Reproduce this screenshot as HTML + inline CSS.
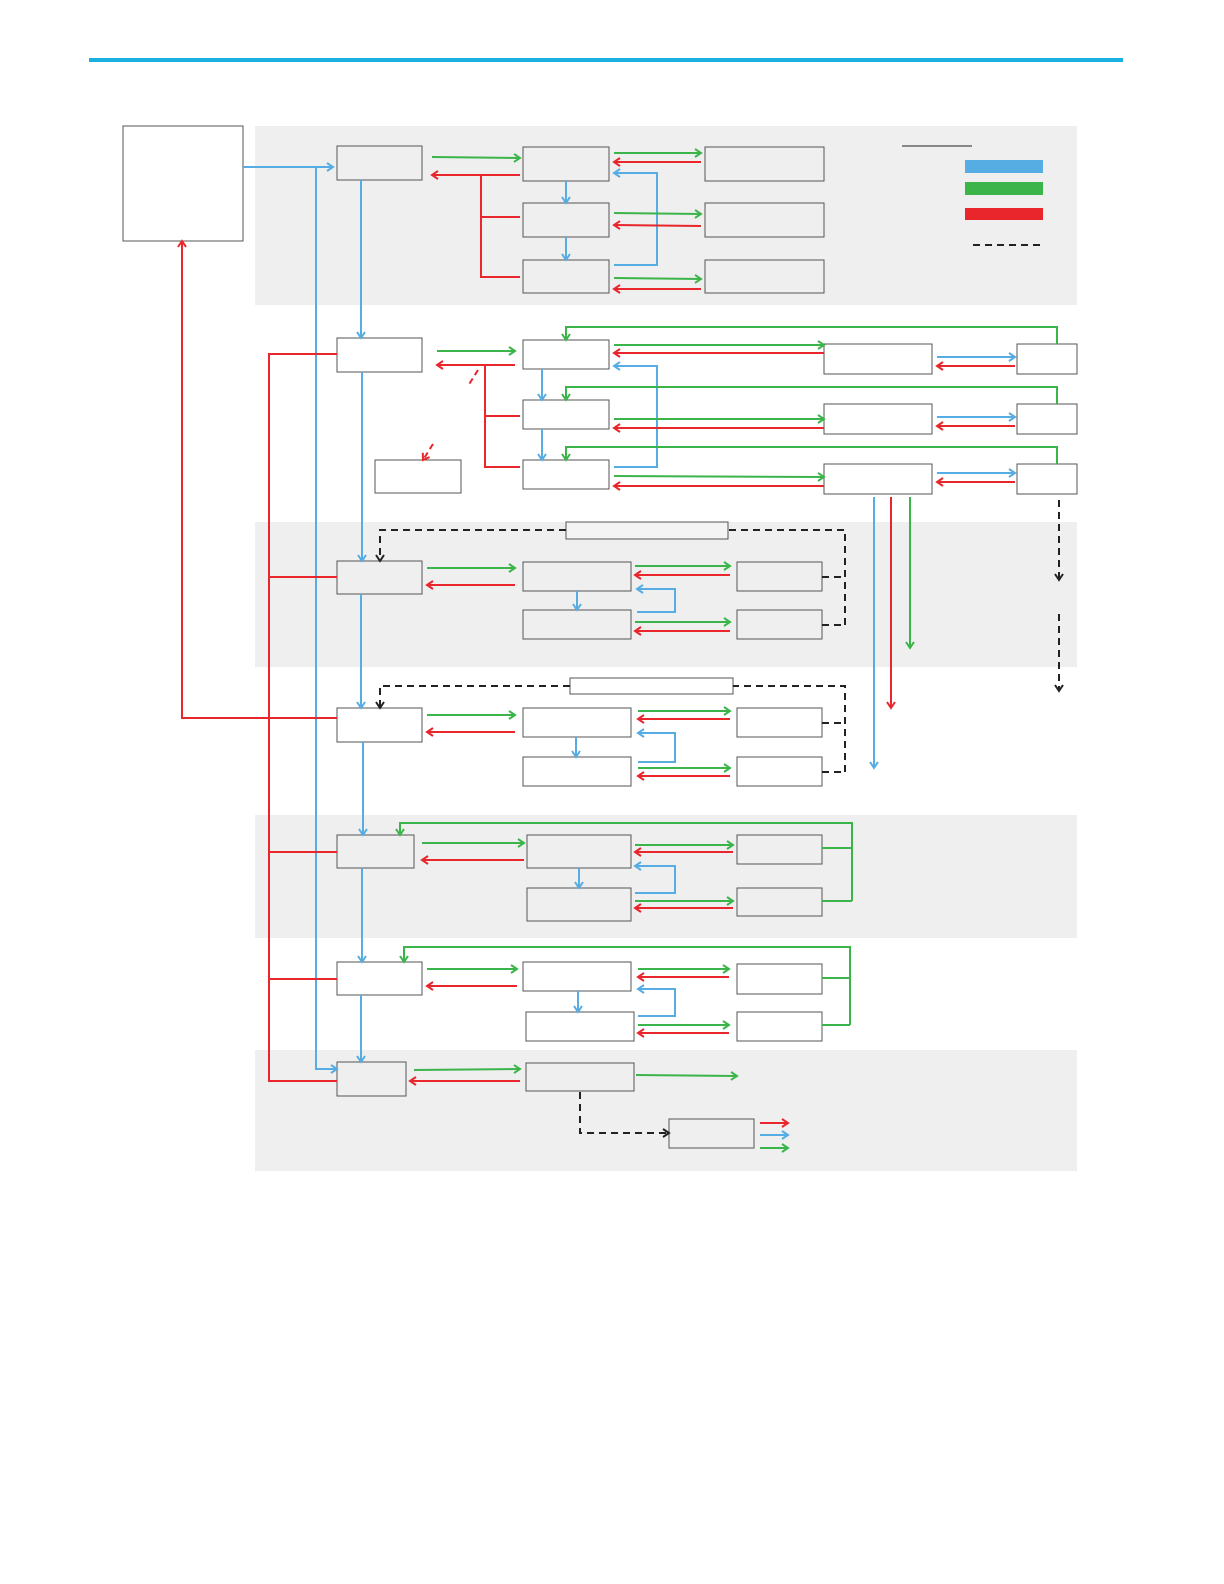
<!DOCTYPE html>
<html><head><meta charset="utf-8"><style>
html,body{margin:0;padding:0;background:#fff;}
svg{display:block;}
</style></head><body>
<svg width="1224" height="1584" viewBox="0 0 1224 1584" xmlns="http://www.w3.org/2000/svg">
<defs>
<marker id="ab" markerWidth="10" markerHeight="10" refX="8" refY="5" orient="auto" markerUnits="userSpaceOnUse"><path d="M2,1 L8,5 L2,9" fill="none" stroke="#56ade3" stroke-width="2"/></marker>
<marker id="ag" markerWidth="10" markerHeight="10" refX="8" refY="5" orient="auto" markerUnits="userSpaceOnUse"><path d="M2,1 L8,5 L2,9" fill="none" stroke="#3bb54a" stroke-width="2"/></marker>
<marker id="ar" markerWidth="10" markerHeight="10" refX="8" refY="5" orient="auto" markerUnits="userSpaceOnUse"><path d="M2,1 L8,5 L2,9" fill="none" stroke="#e8262b" stroke-width="2"/></marker>
<marker id="ak" markerWidth="10" markerHeight="10" refX="8" refY="5" orient="auto" markerUnits="userSpaceOnUse"><path d="M2,1 L8,5 L2,9" fill="none" stroke="#222" stroke-width="2"/></marker>
</defs>
<rect x="89" y="58" width="1034" height="4" fill="#1ab0e0"/>
<g fill="#efefef">
<rect x="255" y="126" width="822" height="179"/>
<rect x="255" y="522" width="822" height="145"/>
<rect x="255" y="815" width="822" height="123"/>
<rect x="255" y="1050" width="822" height="121"/>
</g>
<g fill="none" stroke="#555" stroke-width="1">
<rect x="123" y="126" width="120" height="115" fill="#fff"/>
<rect x="337" y="146" width="85" height="34"/>
<rect x="337" y="338" width="85" height="34" fill="#fff"/>
<rect x="337" y="561" width="85" height="33"/>
<rect x="337" y="708" width="85" height="34" fill="#fff"/>
<rect x="337" y="835" width="77" height="33"/>
<rect x="337" y="962" width="85" height="33" fill="#fff"/>
<rect x="337" y="1062" width="69" height="34"/>
<rect x="375" y="460" width="86" height="33" fill="#fff"/>
<rect x="523" y="147" width="86" height="34"/><rect x="523" y="203" width="86" height="34"/><rect x="523" y="260" width="86" height="33"/>
<rect x="705" y="147" width="119" height="34"/><rect x="705" y="203" width="119" height="34"/><rect x="705" y="260" width="119" height="33"/>
<rect x="523" y="340" width="86" height="29"/><rect x="523" y="400" width="86" height="29"/><rect x="523" y="460" width="86" height="29"/>
<rect x="824" y="344" width="108" height="30"/><rect x="824" y="404" width="108" height="30"/><rect x="824" y="464" width="108" height="30"/>
<rect x="1017" y="344" width="60" height="30"/><rect x="1017" y="404" width="60" height="30"/><rect x="1017" y="464" width="60" height="30"/>
<rect x="566" y="522" width="162" height="17" fill="#f4f4f4"/>
<rect x="523" y="562" width="108" height="29"/><rect x="523" y="610" width="108" height="29"/>
<rect x="737" y="562" width="85" height="29"/><rect x="737" y="610" width="85" height="29"/>
<rect x="570" y="678" width="163" height="16"/>
<rect x="523" y="708" width="108" height="29"/><rect x="523" y="757" width="108" height="29"/>
<rect x="737" y="708" width="85" height="29"/><rect x="737" y="757" width="85" height="29"/>
<rect x="527" y="835" width="104" height="33"/><rect x="527" y="888" width="104" height="33"/>
<rect x="737" y="835" width="85" height="29"/><rect x="737" y="888" width="85" height="28"/>
<rect x="523" y="962" width="108" height="29"/><rect x="526" y="1012" width="108" height="29"/>
<rect x="737" y="964" width="85" height="30"/><rect x="737" y="1012" width="85" height="29"/>
<rect x="526" y="1063" width="108" height="28"/>
<rect x="669" y="1119" width="85" height="29"/>
</g>
<!-- legend -->
<line x1="902" y1="146" x2="972" y2="146" stroke="#222" stroke-width="1"/>
<rect x="965" y="160" width="78" height="13" fill="#56ade3"/>
<rect x="965" y="182" width="78" height="13" fill="#3bb54a"/>
<rect x="965" y="208" width="78" height="12" fill="#e8262b"/>
<line x1="973" y1="245" x2="1040" y2="245" stroke="#222" stroke-width="2" stroke-dasharray="7,5"/>

<!-- BLUE -->
<g fill="none" stroke="#56ade3" stroke-width="2">
<path d="M243,167 H333" marker-end="url(#ab)"/>
<path d="M316,167 V1069 H337" marker-end="url(#ab)"/>
<path d="M361,180 V338" marker-end="url(#ab)"/>
<path d="M362,372 V561" marker-end="url(#ab)"/>
<path d="M361,594 V708" marker-end="url(#ab)"/>
<path d="M363,742 V835" marker-end="url(#ab)"/>
<path d="M362,868 V962" marker-end="url(#ab)"/>
<path d="M361,995 V1062" marker-end="url(#ab)"/>
<path d="M566,181 V203" marker-end="url(#ab)"/>
<path d="M566,237 V260" marker-end="url(#ab)"/>
<path d="M614,265 H657 V173 H614" marker-end="url(#ab)"/>
<path d="M542,369 V400" marker-end="url(#ab)"/>
<path d="M542,429 V460" marker-end="url(#ab)"/>
<path d="M614,467 H657 V366 H614" marker-end="url(#ab)"/>
<path d="M937,357 H1015" marker-end="url(#ab)"/>
<path d="M937,417 H1015" marker-end="url(#ab)"/>
<path d="M937,473 H1015" marker-end="url(#ab)"/>
<path d="M874,497 V768" marker-end="url(#ab)"/>
<path d="M577,591 V610" marker-end="url(#ab)"/>
<path d="M637,612 H675 V589 H637" marker-end="url(#ab)"/>
<path d="M576,737 V757" marker-end="url(#ab)"/>
<path d="M638,762 H675 V733 H638" marker-end="url(#ab)"/>
<path d="M579,868 V888" marker-end="url(#ab)"/>
<path d="M635,893 H675 V866 H635" marker-end="url(#ab)"/>
<path d="M578,991 V1012" marker-end="url(#ab)"/>
<path d="M638,1016 H675 V989 H638" marker-end="url(#ab)"/>
<path d="M760,1135 H788" marker-end="url(#ab)"/>
</g>

<!-- GREEN -->
<g fill="none" stroke="#3bb54a" stroke-width="2">
<path d="M432,157 L520,158" marker-end="url(#ag)"/>
<path d="M614,153 L701,153" marker-end="url(#ag)"/>
<path d="M614,213 L701,214" marker-end="url(#ag)"/>
<path d="M614,278 L701,279" marker-end="url(#ag)"/>
<path d="M437,351 L515,351" marker-end="url(#ag)"/>
<path d="M614,345 L824,345" marker-end="url(#ag)"/>
<path d="M614,419 L824,419" marker-end="url(#ag)"/>
<path d="M614,476 L824,477" marker-end="url(#ag)"/>
<path d="M1057,344 V327 H566 V340" marker-end="url(#ag)"/>
<path d="M1057,404 V387 H566 V400" marker-end="url(#ag)"/>
<path d="M1057,464 V447 H566 V460" marker-end="url(#ag)"/>
<path d="M910,497 V648" marker-end="url(#ag)"/>
<path d="M427,568 H515" marker-end="url(#ag)"/>
<path d="M635,566 H730" marker-end="url(#ag)"/>
<path d="M635,622 H730" marker-end="url(#ag)"/>
<path d="M427,715 H515" marker-end="url(#ag)"/>
<path d="M638,711 H730" marker-end="url(#ag)"/>
<path d="M638,768 H730" marker-end="url(#ag)"/>
<path d="M422,843 H524" marker-end="url(#ag)"/>
<path d="M635,845 H733" marker-end="url(#ag)"/>
<path d="M635,901 H733" marker-end="url(#ag)"/>
<path d="M822,848 H852 M822,901 H852"/>
<path d="M852,901 V823 H400 V835" marker-end="url(#ag)"/>
<path d="M427,969 H517" marker-end="url(#ag)"/>
<path d="M638,969 H729" marker-end="url(#ag)"/>
<path d="M638,1025 H729" marker-end="url(#ag)"/>
<path d="M822,978 H850 M822,1025 H850"/>
<path d="M850,1025 V947 H404 V962" marker-end="url(#ag)"/>
<path d="M414,1070 L520,1069" marker-end="url(#ag)"/>
<path d="M636,1075 L737,1076" marker-end="url(#ag)"/>
<path d="M760,1148 H788" marker-end="url(#ag)"/>
</g>

<!-- RED -->
<g fill="none" stroke="#e8262b" stroke-width="2">
<path d="M520,175 H432" marker-end="url(#ar)"/>
<path d="M481,175 V277 H520 M481,217 H520"/>
<path d="M701,162 H614" marker-end="url(#ar)"/>
<path d="M701,226 L614,225" marker-end="url(#ar)"/>
<path d="M701,289 H614" marker-end="url(#ar)"/>
<path d="M337,354 H269 V1081 H337"/>
<path d="M269,577 H337 M269,852 H337 M269,979 H337 M269,718 H337"/>
<path d="M337,718 H182 V241" marker-end="url(#ar)"/>
<path d="M515,365 H437" marker-end="url(#ar)"/>
<path d="M485,365 V467 H520 M485,416 H520"/>
<path d="M478,370 L468,386" stroke-dasharray="6,4"/>
<path d="M433,444 L423,460" stroke-dasharray="6,4" marker-end="url(#ar)"/>
<path d="M824,353 H614" marker-end="url(#ar)"/>
<path d="M824,428 H614" marker-end="url(#ar)"/>
<path d="M824,486 H614" marker-end="url(#ar)"/>
<path d="M1015,366 H937" marker-end="url(#ar)"/>
<path d="M1015,426 H937" marker-end="url(#ar)"/>
<path d="M1015,482 H937" marker-end="url(#ar)"/>
<path d="M891,497 V708" marker-end="url(#ar)"/>
<path d="M515,585 H427" marker-end="url(#ar)"/>
<path d="M730,575 H635" marker-end="url(#ar)"/>
<path d="M730,631 H635" marker-end="url(#ar)"/>
<path d="M515,732 H427" marker-end="url(#ar)"/>
<path d="M730,719 H638" marker-end="url(#ar)"/>
<path d="M730,776 H638" marker-end="url(#ar)"/>
<path d="M524,860 H422" marker-end="url(#ar)"/>
<path d="M733,852 H635" marker-end="url(#ar)"/>
<path d="M733,908 H635" marker-end="url(#ar)"/>
<path d="M517,986 H427" marker-end="url(#ar)"/>
<path d="M729,977 H638" marker-end="url(#ar)"/>
<path d="M729,1033 H638" marker-end="url(#ar)"/>
<path d="M520,1081 H410" marker-end="url(#ar)"/>
<path d="M760,1123 H788" marker-end="url(#ar)"/>
</g>

<!-- BLACK dashed -->
<g fill="none" stroke="#222" stroke-width="2" stroke-dasharray="7,5">
<path d="M1059,500 V580" marker-end="url(#ak)"/>
<path d="M1059,614 V691" marker-end="url(#ak)"/>
<path d="M822,577 H845 M822,625 H845 M845,625 V530 H728"/>
<path d="M566,530 H380 V561" marker-end="url(#ak)"/>
<path d="M822,723 H845 M822,772 H845 M845,772 V686 H733"/>
<path d="M570,686 H380 V708" marker-end="url(#ak)"/>
<path d="M580,1092 V1133 H669" marker-end="url(#ak)"/>
</g>
</svg>
</body></html>
